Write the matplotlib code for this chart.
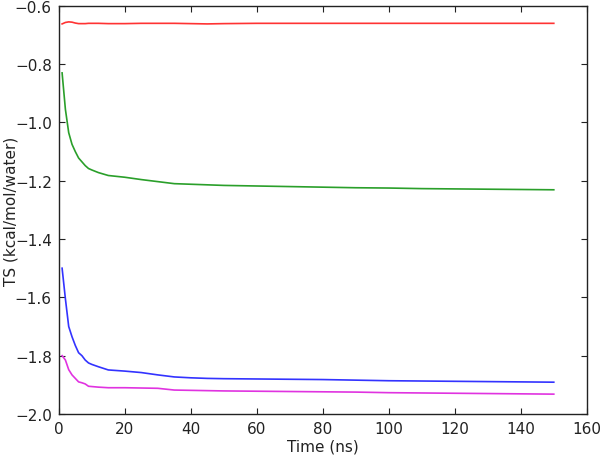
import matplotlib
matplotlib.use("Agg")
import matplotlib.pyplot as plt

time_ns = [1, 2, 3, 4, 5, 6, 7, 8, 9, 10, 12, 15, 20, 25, 30, 35, 40, 45,
           50, 60, 70, 80, 90, 100, 110, 120, 130, 140, 150]

ts_red = [-0.662, -0.657, -0.655, -0.656, -0.659, -0.661, -0.661, -0.661, -0.660, -0.660,
          -0.660, -0.661, -0.661, -0.660, -0.660, -0.660, -0.661, -0.662,
          -0.661, -0.660, -0.660, -0.660, -0.660, -0.660, -0.660, -0.660, -0.660, -0.660, -0.660]

ts_green = [-0.83, -0.955, -1.035, -1.075, -1.10, -1.122, -1.135, -1.148, -1.158, -1.163,
            -1.172, -1.182, -1.188, -1.196, -1.203, -1.210, -1.212, -1.214,
            -1.216, -1.218, -1.220, -1.222, -1.224, -1.225, -1.227, -1.228, -1.229, -1.230, -1.231]

ts_blue = [-1.50, -1.605, -1.700, -1.735, -1.765, -1.790, -1.800, -1.815, -1.825, -1.830,
           -1.838, -1.849, -1.853, -1.858, -1.866, -1.873, -1.876, -1.878,
           -1.879, -1.880, -1.881, -1.882, -1.884, -1.886, -1.887, -1.888, -1.889, -1.890, -1.891]

ts_magenta = [-1.80, -1.815, -1.848, -1.866, -1.878, -1.890, -1.893, -1.897, -1.905, -1.906,
              -1.908, -1.910, -1.910, -1.911, -1.912, -1.918, -1.919, -1.920,
              -1.921, -1.922, -1.923, -1.924, -1.925, -1.927, -1.928, -1.929, -1.930, -1.931, -1.932]

fig = plt.figure(figsize=(6.0, 4.56), dpi=100)
ax = fig.add_axes([0.098, 0.09, 0.88, 0.895])

for vals, c in [(ts_red, '#ff3333'), (ts_green, '#2a9f2a'),
                (ts_blue, '#3333ff'), (ts_magenta, '#e033e0')]:
    ax.plot(time_ns, vals, color=c, linewidth=1.2)

ax.set_xlim(0, 160)
ax.set_ylim(-2.0, -0.6)
ax.set_xticks([0, 20, 40, 60, 80, 100, 120, 140, 160])
ax.set_yticks([-2.0, -1.8, -1.6, -1.4, -1.2, -1.0, -0.8, -0.6])
ax.tick_params(direction='in', top=True, right=True, length=4, labelsize=11, pad=5,
               colors='#222222')
for s in ax.spines.values():
    s.set_linewidth(1.0)
    s.set_color('#222222')
ax.set_xlabel('Time (ns)', fontsize=11, labelpad=2, color='#222222')
ax.set_ylabel('TS (kcal/mol/water)', fontsize=11, color='#222222')
ax.yaxis.set_label_coords(-0.077, 0.5)

fig.savefig('out.png', dpi=100, facecolor='white')
